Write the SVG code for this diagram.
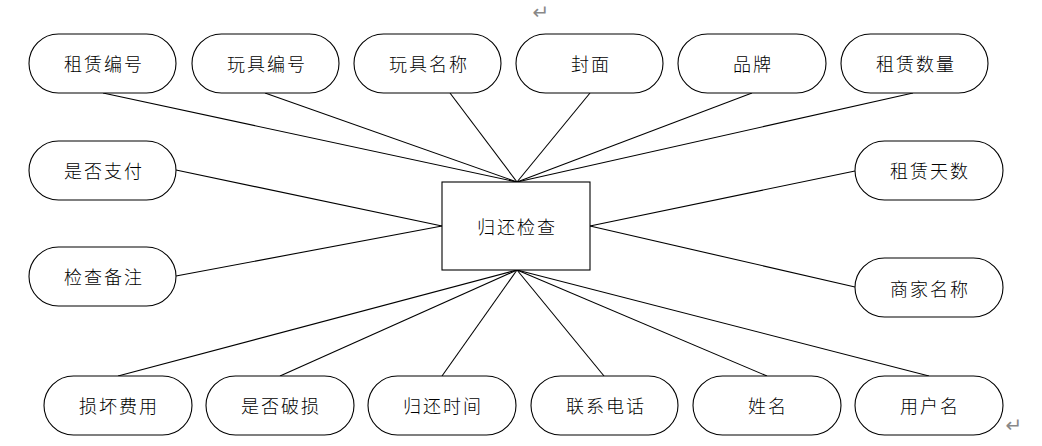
<svg xmlns="http://www.w3.org/2000/svg" width="1042" height="446" viewBox="0 0 1042 446">
<style>
.n{fill:#fff;stroke:#000;stroke-width:1.1}
.t{font-family:"Noto Sans CJK SC","Noto Sans",sans-serif;font-size:18px;letter-spacing:2px;fill:#000;text-anchor:middle;dominant-baseline:central;font-weight:300}
.e line{stroke:#000;stroke-width:1.1}
.m{font-family:"DejaVu Sans",sans-serif;font-size:20px;fill:#888;text-anchor:middle;dominant-baseline:central}
</style>
<rect width="1042" height="446" fill="#fff"/>
<g class="e" id="connectors">
<line x1="103" y1="93" x2="517" y2="182"/>
<line x1="265" y1="93" x2="517" y2="182"/>
<line x1="450" y1="93" x2="517" y2="182"/>
<line x1="590" y1="93" x2="517" y2="182"/>
<line x1="752" y1="93" x2="517" y2="182"/>
<line x1="913" y1="93" x2="517" y2="182"/>
<line x1="176" y1="170" x2="442" y2="226"/>
<line x1="176" y1="276" x2="442" y2="226"/>
<line x1="855" y1="171" x2="590" y2="226"/>
<line x1="855" y1="287" x2="590" y2="226"/>
<line x1="118" y1="376" x2="517" y2="270"/>
<line x1="280" y1="376" x2="517" y2="270"/>
<line x1="442" y1="376" x2="517" y2="270"/>
<line x1="604" y1="376" x2="517" y2="270"/>
<line x1="767" y1="376" x2="517" y2="270"/>
<line x1="929" y1="376" x2="517" y2="270"/>
</g>
<g id="center"><rect class="n" x="442" y="182" width="148" height="88"/><text class="t" x="517" y="226">归还检查</text></g>
<g id="a1"><rect class="n" x="29" y="34" width="147" height="59" rx="29.5"/><text class="t" x="104" y="63">租赁编号</text></g>
<g id="a2"><rect class="n" x="192" y="34" width="147" height="59" rx="29.5"/><text class="t" x="267" y="63">玩具编号</text></g>
<g id="a3"><rect class="n" x="354" y="34" width="147" height="59" rx="29.5"/><text class="t" x="429" y="63">玩具名称</text></g>
<g id="a4"><rect class="n" x="516" y="34" width="147" height="59" rx="29.5"/><text class="t" x="591" y="63">封面</text></g>
<g id="a5"><rect class="n" x="678" y="34" width="148" height="59" rx="29.5"/><text class="t" x="753" y="63">品牌</text></g>
<g id="a6"><rect class="n" x="841" y="34" width="147" height="59" rx="29.5"/><text class="t" x="916" y="63">租赁数量</text></g>
<g id="a7"><rect class="n" x="29" y="141" width="147" height="59" rx="29.5"/><text class="t" x="104" y="170">是否支付</text></g>
<g id="a8"><rect class="n" x="29" y="247" width="147" height="59" rx="29.5"/><text class="t" x="104" y="276">检查备注</text></g>
<g id="a9"><rect class="n" x="855" y="141" width="148" height="59" rx="29.5"/><text class="t" x="930" y="170">租赁天数</text></g>
<g id="a10"><rect class="n" x="855" y="258" width="148" height="59" rx="29.5"/><text class="t" x="930" y="288">商家名称</text></g>
<g id="a11"><rect class="n" x="44" y="376" width="148" height="59" rx="29.5"/><text class="t" x="119" y="405">损坏费用</text></g>
<g id="a12"><rect class="n" x="206" y="376" width="148" height="59" rx="29.5"/><text class="t" x="281" y="405">是否破损</text></g>
<g id="a13"><rect class="n" x="368" y="376" width="148" height="59" rx="29.5"/><text class="t" x="443" y="405">归还时间</text></g>
<g id="a14"><rect class="n" x="531" y="376" width="147" height="59" rx="29.5"/><text class="t" x="606" y="405">联系电话</text></g>
<g id="a15"><rect class="n" x="693" y="376" width="148" height="59" rx="29.5"/><text class="t" x="768" y="405">姓名</text></g>
<g id="a16"><rect class="n" x="855" y="376" width="148" height="59" rx="29.5"/><text class="t" x="930" y="405">用户名</text></g>
<text class="m" x="541" y="12">↵</text>
<text class="m" x="1014" y="425">↵</text>
</svg>
